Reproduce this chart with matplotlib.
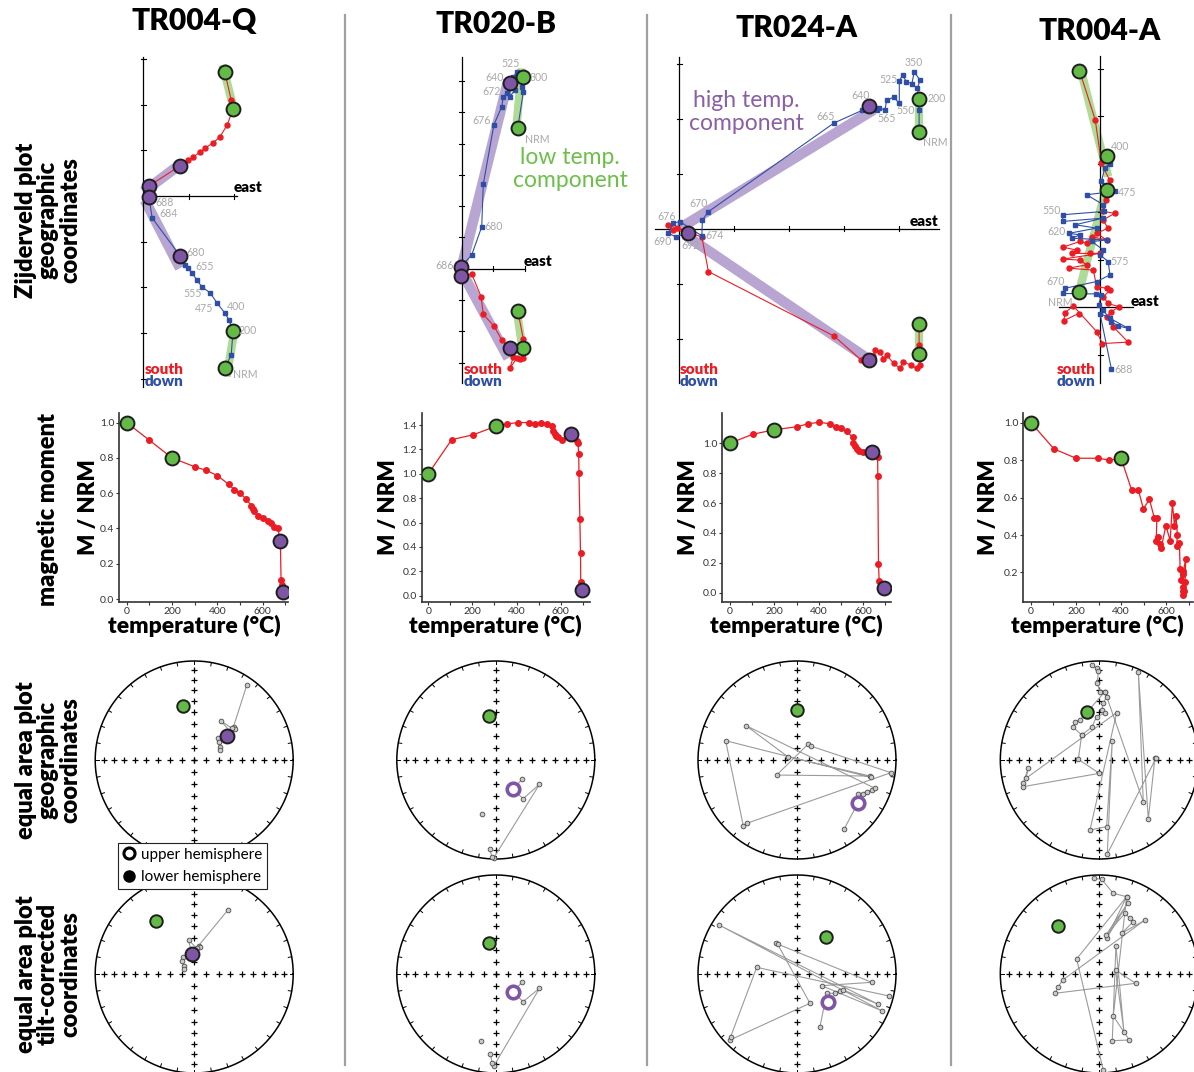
import numpy as np
import matplotlib.pyplot as plt
from matplotlib.lines import Line2D

plt.rcParams['font.family'] = ['Lato', 'DejaVu Sans']

W, H = 1194, 1072

RED = '#ec1c24'
BLUE = '#2f4fa6'
GREEN = '#63ba47'
GREEN_BAND = '#aedb95'
PURPLE = '#7f56a5'
PURPLE_BAND = '#b8a5d2'
LABEL_GRAY = '#a8a8a8'
EDGE = '#1e1e1e'
HEAVY = 'heavy'

samples = ['TR004-Q', 'TR020-B', 'TR024-A', 'TR004-A']

# ---------------- Zijderveld data (units = one axis tick) ----------------
# red = horizontal projection (east, north), blue = vertical projection (east, up)
q_red_e = [1.79, 1.93, 1.97, 1.84, 1.68, 1.53, 1.36, 1.25, 1.09, 0.98, 0.81, 0.13]
q_red_n = [2.71, 2.10, 1.90, 1.55, 1.29, 1.16, 1.05, 0.96, 0.85, 0.79, 0.66, 0.22]
q_blue_e = [0.13, 0.20, 0.81, 0.92, 0.98, 1.07, 1.18, 1.29, 1.47, 1.62, 1.79, 1.88, 1.97, 1.93, 1.79]
q_blue_u = [-0.02, -0.48, -1.31, -1.51, -1.58, -1.68, -1.84, -1.99, -2.12, -2.34, -2.56, -2.71, -2.95, -3.48, -3.76]
q_lt = [(1.79, 2.71), (1.97, 1.90), (1.97, -2.95), (1.79, -3.76)]
q_ht = [(0.81, 0.66), (0.13, 0.22), (0.13, -0.02), (0.81, -1.31)]
q_lt_bands = [((1.74, 2.87), (2.01, 1.81)), ((2.01, -2.89), (1.83, -3.95))]
q_ht_bands = [((0.85, 0.72), (0.01, 0.09)), ((0.04, -0.09), (0.81, -1.58))]
q_labels = [('688', 0.28, -0.15), ('684', 0.35, -0.39), ('680', 0.96, -1.23), ('655', 1.14, -1.55),
            ('555', 0.88, -2.14), ('475', 1.14, -2.47), ('400', 1.84, -2.41), ('200', 2.10, -2.95),
            ('NRM', 1.97, -3.90)]

b_red_e = [1.78, 1.96, 1.96, 1.94, 1.85, 1.75, 1.53, 1.64, 1.53, 1.27, 1.02, 0.68, 0.61, 0.31, -0.04]
b_red_n = [-1.34, -2.25, -2.54, -2.86, -2.89, -2.86, -3.18, -2.81, -2.54, -2.28, -1.83, -1.46, -0.89, -0.17, -0.23]
b_blue_e = [1.78, 1.96, 1.91, 1.96, 1.75, 1.64, 1.69, 1.53, 1.53, 1.43, 1.32, 1.27, 1.02, 0.68, 0.63, 0.31, -0.04]
b_blue_u = [4.49, 5.65, 5.81, 6.13, 6.29, 6.13, 5.71, 5.50, 5.92, 5.60, 5.50, 5.18, 4.60, 2.70, 1.34, 0.44, 0.06]
b_lt = [(1.96, 6.13), (1.78, 4.49), (1.78, -1.34), (1.96, -2.54)]
b_ht = [(1.53, 5.92), (-0.04, 0.06), (1.53, -2.54), (-0.04, -0.23)]
b_lt_bands = [((1.73, 4.43), (1.91, 6.40)), ((1.75, -1.32), (1.96, -2.76))]
b_ht_bands = [((-0.06, -0.15), (1.48, 6.03)), ((-0.04, -0.04), (1.48, -2.86))]
b_labels = [('525', 1.25, 6.56), ('640', 0.76, 6.12), ('300', 2.15, 6.12), ('672', 0.66, 5.65),
            ('676', 0.34, 4.73), ('NRM', 2.01, 4.13), ('680', 0.73, 1.36), ('686', -0.86, 0.11)]

a_red_e = [4.36, 4.36, 4.36, 4.38, 4.32, 4.21, 4.07, 4.01, 3.90, 3.77, 3.71, 3.65, 3.56, 3.53, 3.45, 3.30,
           2.81, 0.53, 0.41, -0.05, -0.20, -0.11, 0.16]
a_red_n = [-1.73, -2.11, -2.28, -2.48, -2.54, -2.48, -2.42, -2.54, -2.45, -2.30, -2.36, -2.24, -2.21, -2.31,
           -2.38, -2.38, -1.95, -0.78, -0.15, 0.01, 0.07, -0.02, -0.07]
a_blue_e = [4.36, 4.36, 4.36, 4.33, 4.38, 4.27, 4.23, 4.13, 4.06, 4.00, 4.00, 3.90, 3.77, 3.74, 3.64, 3.59,
            3.45, 3.32, 2.81, 0.53, 0.42, 0.41, 0.01, -0.11, -0.20, -0.06, 0.16]
a_blue_u = [1.76, 2.16, 2.36, 2.56, 2.70, 2.85, 2.64, 2.67, 2.79, 2.69, 2.28, 2.39, 2.34, 2.16, 2.19, 2.15,
            2.24, 2.15, 1.92, 0.31, 0.16, -0.13, 0.13, 0.10, -0.08, -0.15, -0.07]
a_lt = [(4.36, 1.76), (4.36, 2.36), (4.36, -1.73), (4.36, -2.28)]
a_ht = [(3.45, 2.24), (0.16, -0.07), (3.45, -2.38)]
a_lt_bands = [((4.36, 1.70), (4.36, 2.42)), ((4.36, -1.67), (4.36, -2.34))]
a_ht_bands = [((0.01, 0.01), (3.53, 2.16)), ((0.10, -0.11), (3.45, -2.38))]
a_labels = [('350', 4.09, 3.02), ('525', 3.63, 2.72), ('200', 4.51, 2.36), ('640', 3.12, 2.43),
            ('550', 3.95, 2.14), ('565', 3.61, 2.00), ('665', 2.50, 2.04), ('NRM', 4.43, 1.56),
            ('670', 0.18, 0.45), ('676', -0.40, 0.23), ('674', 0.47, -0.12), ('690', -0.48, -0.24),
            ('692', 0.03, -0.31)]

c_red_e = [-0.43, -0.10, 0.03, 0.20, 0.13, 0.07, 0.31, 0.06, 0.17, -0.07, 0.14, -0.17, -0.28, -0.42, -0.78,
           -0.49, -0.59, -0.21, 0.00, -0.78, -0.42, -0.28, -0.66, -0.14, -0.07, 0.14, 0.21, 0.07, 0.17, 0.40,
           0.24, 0.14, 0.28, 0.59, 0.05, -0.07, -0.56, -0.73, -0.76, -0.45]
c_red_n = [4.96, 3.93, 3.02, 2.67, 2.25, 2.01, 1.97, 1.83, 1.66, 1.55, 1.41, 1.48, 1.34, 1.38, 1.26,
           1.20, 1.13, 1.13, 1.13, 1.01, 0.99, 0.89, 0.82, 0.78, 0.43, 0.40, 0.36, 0.22, 0.08, 0.01,
           -0.09, -0.20, -0.41, -0.73, -0.76, -0.51, 0.03, -0.11, -0.28, -0.13]
c_blue_e = [0.20, 0.10, 0.03, 0.31, -0.28, 0.07, 0.08, -0.78, -0.78, 0.07, -0.52, -0.07, -0.66, -0.42, -0.59,
            0.14, -0.17, 0.07, 0.00, 0.17, 0.21, -0.07, -0.73, -0.77, -0.08, 0.03, -0.03, 0.07, 0.24, 0.38,
            0.59, 0.21, 0.00, 0.24]
c_blue_u = [3.01, 2.92, 2.64, 2.43, 2.36, 2.15, 2.01, 1.94, 1.80, 1.87, 1.73, 1.66, 1.55, 1.52, 1.45,
            1.41, 1.38, 1.20, 1.10, 0.96, 0.68, 0.54, 0.40, 0.29, 0.28, 0.26, 0.05, -0.06, -0.30, -0.39,
            -0.44, -0.23, -0.13, -1.30]
c_lt = [(-0.43, 4.96), (0.15, 3.18), (0.15, 2.45), (-0.43, 0.33)]
c_ht = []
c_lt_bands = [((-0.43, 5.08), (0.17, 2.74)), ((0.10, 2.39), (-0.42, 0.40))]
c_ht_bands = []
c_labels = [('400', 0.22, 3.38), ('475', 0.38, 2.41), ('550', -1.20, 2.03), ('620', -1.10, 1.59),
            ('575', 0.22, 0.97), ('670', -1.13, 0.54), ('NRM', -1.08, 0.10), ('688', 0.31, -1.30)]

# ---------------- demagnetisation curves ----------------
q_temp = [0, 100, 200, 300, 350, 400, 450, 475, 500, 525, 550, 556, 563, 578, 600, 622, 637, 652, 667, 678, 681, 684, 689]
q_mom = [1.00, 0.90, 0.80, 0.75, 0.73, 0.70, 0.65, 0.62, 0.60, 0.57, 0.53, 0.51, 0.50, 0.47, 0.46, 0.44, 0.43, 0.41,
         0.40, 0.33, 0.11, 0.08, 0.04]
b_temp = [0, 106, 204, 306, 358, 408, 457, 483, 509, 536, 562, 566, 574, 581, 589, 608, 649, 674, 679, 682, 683,
          687, 690, 691, 697]
b_mom = [1.00, 1.28, 1.32, 1.39, 1.41, 1.42, 1.42, 1.41, 1.42, 1.41, 1.39, 1.35, 1.33, 1.31, 1.30, 1.28, 1.33,
         1.27, 1.25, 1.16, 1.01, 0.63, 0.35, 0.11, 0.05]
a_temp = [0, 102, 200, 301, 353, 401, 451, 477, 501, 526, 552, 556, 564, 571, 579, 598, 639, 665, 666, 669, 672, 695]
a_mom = [1.00, 1.06, 1.09, 1.11, 1.13, 1.14, 1.13, 1.11, 1.10, 1.08, 1.04, 1.00, 0.98, 0.96, 0.95, 0.94, 0.94,
         0.91, 0.78, 0.19, 0.08, 0.03]
c_temp = [0, 102, 200, 299, 348, 400, 447, 477, 499, 526, 548, 559, 556, 566, 573, 578, 599, 618, 628, 637, 644,
          650, 647, 659, 662, 667, 674, 677, 674, 681, 684, 687, 677, 674]
c_mom = [1.00, 0.86, 0.81, 0.81, 0.80, 0.81, 0.64, 0.64, 0.54, 0.59, 0.49, 0.49, 0.37, 0.39, 0.35, 0.33, 0.45,
         0.37, 0.57, 0.45, 0.50, 0.40, 0.34, 0.36, 0.22, 0.16, 0.19, 0.12, 0.10, 0.10, 0.15, 0.27, 0.21, 0.08]
q_lt_idx, q_ht_idx = [0, 2], [19, 22]
b_lt_idx, b_ht_idx = [0, 3], [16, 24]
a_lt_idx, a_ht_idx = [0, 2], [16, 21]
c_lt_idx, c_ht_idx = [0, 5], []

# ---------------- equal area data (east, north as fraction of net radius) ----------------
q_geo = [[(0.532, 0.758), (0.397, 0.337), (0.414, 0.310), (0.380, 0.320), (0.269, 0.397), (0.364, 0.286),
          (0.330, 0.246), (0.236, 0.226), (0.246, 0.185), (0.263, 0.135), (0.256, 0.101)]]
q_geo_lt, q_geo_ht, q_geo_up = (-0.114, 0.545), (0.330, 0.246), False
q_tilt = [[(0.340, 0.646), (0.044, 0.286), (0.061, 0.276), (0.027, 0.259), (-0.057, 0.343), (-0.024, 0.202),
           (-0.114, 0.175), (-0.125, 0.135), (-0.108, 0.084), (-0.101, 0.051)]]
q_tilt_lt, q_tilt_ht, q_tilt_up = (-0.384, 0.532), (-0.024, 0.202), False

b_geo = [[(0.266, -0.195), (0.172, -0.296), (0.276, -0.391), (0.441, -0.246), (-0.020, -0.987),
          (-0.037, -0.983), (-0.061, -0.902)], [(-0.138, -0.549)]]
b_geo_lt, b_geo_ht, b_geo_up = (-0.064, 0.448), (0.172, -0.296), True
b_tilt = [[(0.266, -0.084), (0.172, -0.178), (0.276, -0.279), (0.441, -0.145), (-0.020, -0.929),
           (-0.037, -0.902), (-0.054, -0.808)], [(-0.148, -0.673)]]
b_tilt_lt, b_tilt_ht, b_tilt_up = (-0.064, 0.316), (0.172, -0.178), True

a_geo = [[(0.475, -0.700), (0.613, -0.438), (0.620, -0.343), (0.663, -0.343), (0.704, -0.320), (0.754, -0.303),
          (0.788, -0.286), (-0.515, 0.347), (-0.094, 0.034), (0.737, -0.162), (-0.205, -0.152), (0.114, 0.162),
          (0.138, 0.141), (0.949, -0.128), (-0.508, -0.640), (-0.542, -0.667), (-0.721, 0.195), (0.744, -0.175)]]
a_geo_lt, a_geo_ht, a_geo_up = (0.003, 0.505), (0.613, -0.438), True
a_tilt = [[(0.232, -0.532), (0.300, -0.195), (0.384, -0.195), (0.434, -0.168), (0.468, -0.162), (0.822, -0.306),
           (-0.788, 0.495), (0.862, -0.374), (0.249, -0.118), (0.754, -0.084), (-0.215, 0.310), (-0.195, 0.300),
           (0.131, -0.296), (-0.677, -0.667), (-0.670, -0.633), (-0.407, 0.067), (0.929, -0.222)]]
a_tilt_lt, a_tilt_ht, a_tilt_up = (0.290, 0.377), (0.310, -0.279), True

c_geo = [[(-0.077, 0.960), (-0.027, 0.926), (-0.010, 0.902), (-0.020, 0.774), (0.007, 0.690), (0.057, 0.690),
          (0.074, 0.640), (0.040, 0.572), (0.024, 0.505), (0.057, 0.471), (-0.027, 0.438), (-0.077, 0.330),
          (-0.178, 0.253), (-0.263, 0.330), (-0.246, 0.387), (-0.195, 0.404), (0.057, 0.690), (0.444, -0.421),
          (0.394, 0.892), (0.495, -0.599), (0.562, 0.024), (0.572, 0.017), (0.081, -0.949), (0.131, 0.195),
          (0.074, -0.673), (-0.094, -0.707), (0.175, 0.478), (-0.741, -0.185), (-0.717, -0.084),
          (-0.768, -0.229), (-0.768, -0.269), (0.000, -0.135), (-0.212, 0.007), (-0.178, 0.253)]]
c_geo_lt, c_geo_ht, c_geo_up = (-0.121, 0.488), None, False
c_tilt = [[(-0.054, 0.966), (0.024, 0.956), (0.141, 0.815), (0.276, 0.781), (0.074, 0.360), (0.286, 0.714),
           (0.067, 0.394), (0.259, 0.613), (0.310, 0.562), (0.343, 0.529), (0.226, 0.411), (0.461, 0.545),
           (-0.370, -0.061), (-0.414, -0.128), (-0.448, -0.195), (0.367, -0.094), (0.165, 0.040),
           (0.249, -0.582), (0.168, 0.283), (0.131, -0.673), (0.303, -0.667), (0.141, -0.424), (0.276, 0.781),
           (-0.229, 0.152), (0.040, -0.970)]]
c_tilt_lt, c_tilt_ht, c_tilt_up = (-0.414, 0.485), None, False

# ---------------- layout (pixels of the 1194x1072 canvas) ----------------
ZIJ = [
    dict(origin=(143, 196), unit=45.7, span=(95, 340), v=(3.05, -4.17), h=(0, 2.06), vt=range(-4, 4), ht=[1, 2],
         east=(234, 188), south=(145, 369)),
    dict(origin=(462, 268.7), unit=31.3, span=(350, 645), v=(6.76, -3.66), h=(0, 2.01), vt=range(-3, 7), ht=[1, 2],
         east=(524, 261), south=(464, 369)),
    dict(origin=(679.3, 228.7), unit=55.0, span=(650, 948), v=(3.13, -2.81), h=(-0.44, 4.72), vt=range(-2, 4),
         ht=[1, 2, 3, 4], east=(910, 221), south=(680, 369)),
    dict(origin=(1100, 307.3), unit=47.7, span=(955, 1194), v=(5.26, -1.59), h=(-0.87, 0.69), vt=range(-1, 6),
         ht=[], east=(1131, 301), south=(1057, 369)),
]
DEM = [
    dict(box=(119.3, 413.3, 288.3, 601.7), xlim=(-33, 713), ylim=(-0.015, 1.053),
         yt=[0.0, 0.2, 0.4, 0.6, 0.8, 1.0], ylab=88, xlab=194),
    dict(box=(421.7, 413.3, 590, 601.7), xlim=(-30, 733), ylim=(-0.049, 1.496),
         yt=[0.0, 0.2, 0.4, 0.6, 0.8, 1.0, 1.2, 1.4], ylab=389, xlab=495),
    dict(box=(722.3, 413.3, 890.7, 601.7), xlim=(-35, 724), ylim=(-0.06, 1.20),
         yt=[0.0, 0.2, 0.4, 0.6, 0.8, 1.0], ylab=689, xlab=796),
    dict(box=(1023.3, 413.3, 1192.7, 601.7), xlim=(-34, 718), ylim=(0.044, 1.05),
         yt=[0.2, 0.4, 0.6, 0.8, 1.0], ylab=989, xlab=1097),
]
NET_X = [194.2, 495.8, 797, 1099.3]
NET_Y = [760, 974]
NET_R = 99
TITLE_Y = [21, 24, 28, 31]

fig = plt.figure(figsize=(W / 100, H / 100), dpi=100)


def box(x0, y0, x1, y1):
    return [x0 / W, 1 - y1 / H, (x1 - x0) / W, (y1 - y0) / H]


def ftext(x, y, s, **kw):
    return fig.text(x / W, 1 - y / H, s, **kw)


def zijderveld(g, red_e, red_n, blue_e, blue_u, lt, ht, lt_bands, ht_bands, labels):
    ox, oy = g['origin']
    u = g['unit']
    x0, x1 = g['span']
    y0, y1 = 45, 395
    ax = fig.add_axes(box(x0, y0, x1, y1))
    ax.set_xlim((x0 - ox) / u, (x1 - ox) / u)
    ax.set_ylim((oy - y1) / u, (oy - y0) / u)
    ax.axis('off')
    ax.plot([0, 0], list(g['v']), color='k', lw=0.9, zorder=2)
    ax.plot(list(g['h']), [0, 0], color='k', lw=0.9, zorder=2)
    tl = 2.5 / u
    for t in g['vt']:
        if t != 0:
            ax.plot([-tl, tl], [t, t], color='k', lw=0.8, zorder=2)
    for t in g['ht']:
        ax.plot([t, t], [-tl, tl], color='k', lw=0.8, zorder=2)
    for s, e in lt_bands:
        ax.plot([s[0], e[0]], [s[1], e[1]], color=GREEN_BAND, lw=6, solid_capstyle='butt', zorder=1)
    for s, e in ht_bands:
        ax.plot([s[0], e[0]], [s[1], e[1]], color=PURPLE_BAND, lw=7.5, solid_capstyle='butt', zorder=1)
    ax.plot(red_e, red_n, '-o', color=RED, ms=3.6, lw=0.8, zorder=3)
    ax.plot(blue_e, blue_u, '-s', color=BLUE, ms=3.4, lw=0.8, zorder=3)
    if lt:
        ax.plot(*zip(*lt), 'o', ls='', ms=10, mfc=GREEN, mec=EDGE, mew=1.4, zorder=5)
    if ht:
        ax.plot(*zip(*ht), 'o', ls='', ms=10, mfc=PURPLE, mec=EDGE, mew=1.4, zorder=5)
    for t, e, n in labels:
        ax.text(e, n, t, color=LABEL_GRAY, fontsize=7.6, ha='left', va='center', zorder=6)
    ftext(g['east'][0], g['east'][1], 'east', fontsize=11, fontweight=HEAVY, ha='left', va='center')
    ftext(g['south'][0], g['south'][1], 'south', fontsize=11, fontweight=HEAVY, color=RED, ha='left', va='center')
    ftext(g['south'][0], g['south'][1] + 13, 'down', fontsize=11, fontweight=HEAVY, color=BLUE,
          ha='left', va='center')


def demag(g, temp, mom, lt_idx, ht_idx):
    ax = fig.add_axes(box(*g['box']))
    ax.set_xlim(*g['xlim'])
    ax.set_ylim(*g['ylim'])
    ax.plot(temp, mom, '-o', color=RED, ms=4, lw=0.9, zorder=3)
    t, m = np.array(temp), np.array(mom)
    if lt_idx:
        ax.plot(t[lt_idx], m[lt_idx], 'o', ls='', ms=10, mfc=GREEN, mec=EDGE, mew=1.4, zorder=5)
    if ht_idx:
        ax.plot(t[ht_idx], m[ht_idx], 'o', ls='', ms=10, mfc=PURPLE, mec=EDGE, mew=1.4, zorder=5)
    for side in ('top', 'right'):
        ax.spines[side].set_visible(False)
    for side in ('left', 'bottom'):
        ax.spines[side].set_color('#333333')
        ax.spines[side].set_linewidth(1.2)
    ax.set_xticks([0, 200, 400, 600])
    ax.set_xticks([100, 300, 500, 700], minor=True)
    ax.set_yticks(g['yt'])
    ax.set_yticklabels(['%.1f' % v for v in g['yt']])
    ax.tick_params(which='both', direction='out', length=2, width=0.8, color='#333333',
                   labelsize=7.5, labelcolor='#333333', pad=1.5)
    ax.patch.set_alpha(0)
    ftext(g['ylab'], 507, 'M / NRM', rotation=90, fontsize=16, fontweight=HEAVY, ha='center', va='center')
    ftext(g['xlab'], 626, 'temperature (°C)', fontsize=16.5, fontweight=HEAVY, ha='center', va='center')


def stereonet(cx, cy, paths, lt, ht, upper):
    R = NET_R
    pad = 6
    ax = fig.add_axes(box(cx - R - pad, cy - R - pad, cx + R + pad, cy + R + pad))
    lim = (R + pad) / R
    ax.set_xlim(-lim, lim)
    ax.set_ylim(-lim, lim)
    ax.axis('off')
    th = np.linspace(0, 2 * np.pi, 400)
    ax.plot(np.cos(th), np.sin(th), color='k', lw=1.1)
    for a in np.radians(np.arange(0, 360, 10)):
        ax.plot([np.sin(a), 0.965 * np.sin(a)], [np.cos(a), 0.965 * np.cos(a)], color='k', lw=0.7)
    r = np.sqrt(2) * np.sin(np.radians((90 - np.arange(10, 90, 10)) / 2))
    rr = np.concatenate([-r, [0], r])
    ax.plot(rr, np.zeros_like(rr), '+', color='k', ms=5, mew=0.9)
    ax.plot(np.zeros_like(rr), rr, '+', color='k', ms=5, mew=0.9)
    for path in paths:
        e, n = zip(*path)
        ax.plot(e, n, color='#9b9b9b', lw=0.8, zorder=2)
        ax.plot(e, n, 'o', ls='', ms=3.4, mfc='#c9c9c9', mec='#4a4a4a', mew=0.6, zorder=3)
    ax.plot(*lt, 'o', ms=9, mfc=GREEN, mec=EDGE, mew=1.4, zorder=5)
    if ht is not None:
        if upper:
            ax.plot(*ht, 'o', ms=9, mfc='white', mec=PURPLE, mew=2.6, zorder=5)
        else:
            ax.plot(*ht, 'o', ms=10, mfc=PURPLE, mec=EDGE, mew=1.4, zorder=5)


zij_sets = [
    (q_red_e, q_red_n, q_blue_e, q_blue_u, q_lt, q_ht, q_lt_bands, q_ht_bands, q_labels),
    (b_red_e, b_red_n, b_blue_e, b_blue_u, b_lt, b_ht, b_lt_bands, b_ht_bands, b_labels),
    (a_red_e, a_red_n, a_blue_e, a_blue_u, a_lt, a_ht, a_lt_bands, a_ht_bands, a_labels),
    (c_red_e, c_red_n, c_blue_e, c_blue_u, c_lt, c_ht, c_lt_bands, c_ht_bands, c_labels),
]
dem_sets = [
    (q_temp, q_mom, q_lt_idx, q_ht_idx),
    (b_temp, b_mom, b_lt_idx, b_ht_idx),
    (a_temp, a_mom, a_lt_idx, a_ht_idx),
    (c_temp, c_mom, c_lt_idx, c_ht_idx),
]
net_sets = [
    [(q_geo, q_geo_lt, q_geo_ht, q_geo_up), (q_tilt, q_tilt_lt, q_tilt_ht, q_tilt_up)],
    [(b_geo, b_geo_lt, b_geo_ht, b_geo_up), (b_tilt, b_tilt_lt, b_tilt_ht, b_tilt_up)],
    [(a_geo, a_geo_lt, a_geo_ht, a_geo_up), (a_tilt, a_tilt_lt, a_tilt_ht, a_tilt_up)],
    [(c_geo, c_geo_lt, c_geo_ht, c_geo_up), (c_tilt, c_tilt_lt, c_tilt_ht, c_tilt_up)],
]

for i in range(4):
    zijderveld(ZIJ[i], *zij_sets[i])
    demag(DEM[i], *dem_sets[i])
    for j in range(2):
        stereonet(NET_X[i], NET_Y[j], *net_sets[i][j])
    ftext(NET_X[i], TITLE_Y[i], samples[i], fontsize=21.5, fontweight=HEAVY, ha='center', va='center')

# column separators
for x in (345, 647, 951):
    fig.add_artist(Line2D([x / W, x / W], [1 - 15 / H, 1 - 1065 / H], color='#a0a0a0', lw=1.6))

# component captions
ftext(570, 169, 'low temp.\ncomponent', fontsize=16.5, color='#6cc04a', ha='center', va='center', linespacing=1.15)
ftext(746, 112, 'high temp.\ncomponent', fontsize=16.5, color='#8a5fa8', ha='center', va='center', linespacing=1.15)

# row labels
row_kw = dict(rotation=90, fontsize=17, fontweight=HEAVY, ha='center', va='center', multialignment='center',
              linespacing=1.0)
ftext(48, 220, 'Zijderveld plot\ngeographic\ncoordinates', **row_kw)
ftext(48, 509, 'magnetic moment', **row_kw)
ftext(48, 760, 'equal area plot\ngeographic\ncoordinates', **row_kw)
ftext(48, 974, 'equal area plot\ntilt-corrected\ncoordinates', **row_kw)

# hemisphere legend
handles = [Line2D([], [], marker='o', ls='', ms=8, mfc='white', mec='k', mew=2.2),
           Line2D([], [], marker='o', ls='', ms=8, mfc='k', mec='k', mew=1)]
leg = fig.legend(handles, ['upper hemisphere', 'lower hemisphere'], loc='upper left',
                 bbox_to_anchor=(118 / W, 1 - 843 / H), bbox_transform=fig.transFigure, frameon=True,
                 fancybox=False, edgecolor='#222222', framealpha=1, fontsize=11, handlelength=0.8,
                 handletextpad=0.4, borderpad=0.3, labelspacing=0.55, borderaxespad=0)
leg.get_frame().set_linewidth(0.8)
leg.set_zorder(20)

fig.savefig('out.png', dpi=100)
